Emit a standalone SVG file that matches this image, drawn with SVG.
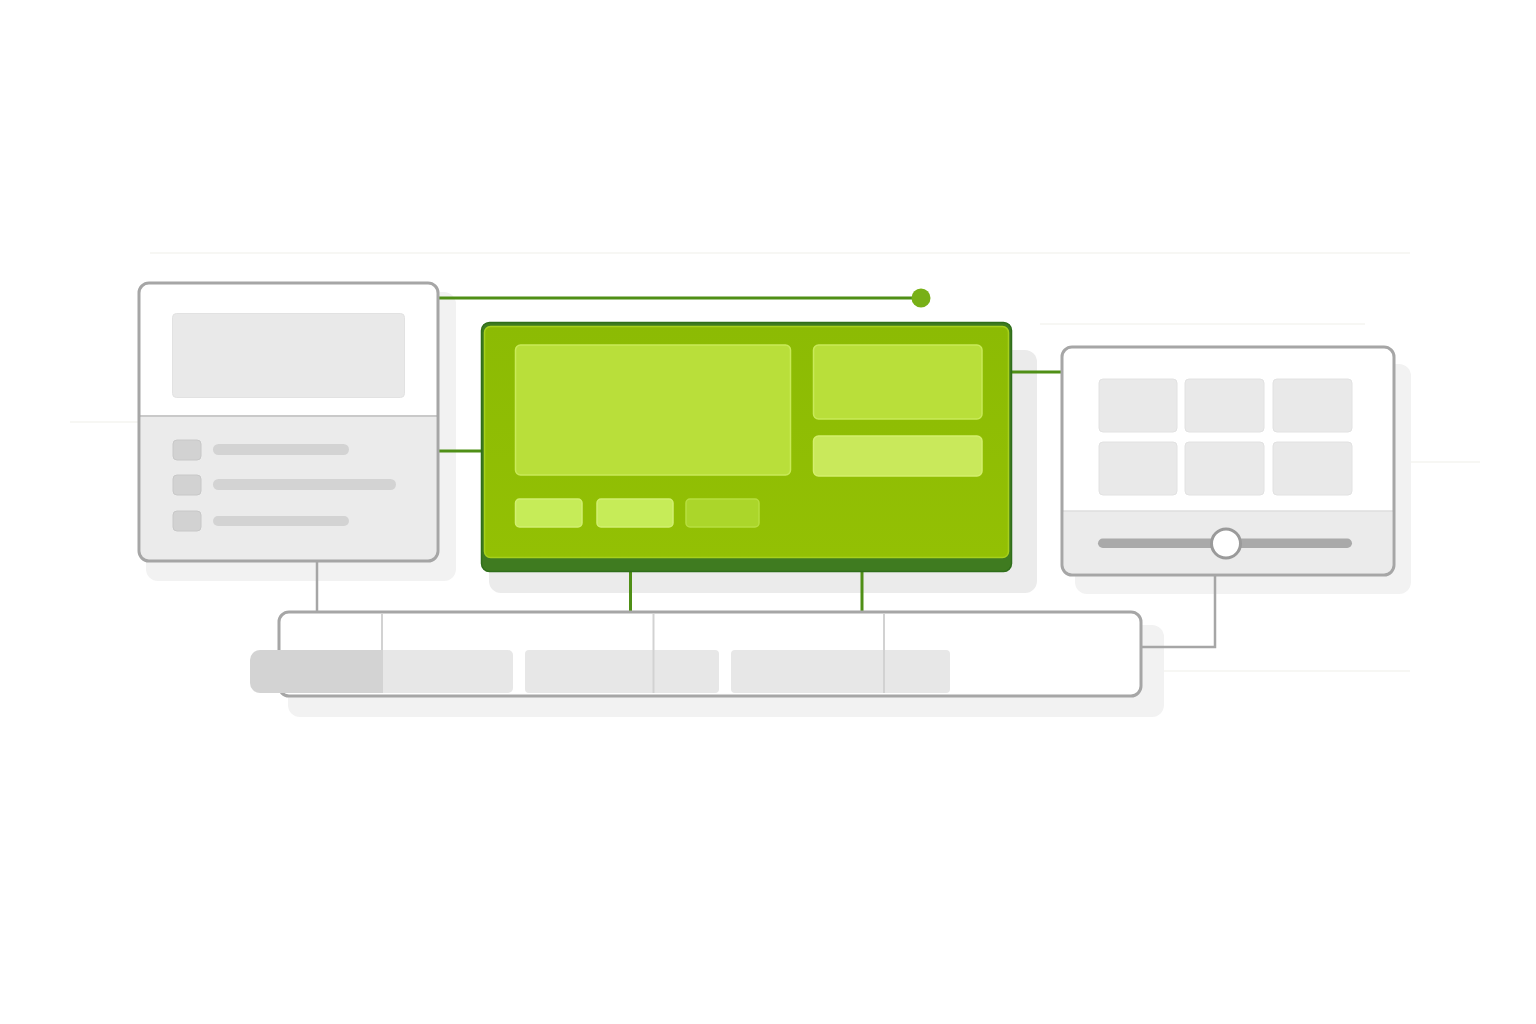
<svg xmlns="http://www.w3.org/2000/svg" width="1536" height="1024" viewBox="0 0 1536 1024">
<defs>
<style>
.frame{fill:none;stroke:#a6a6a6;stroke-width:3}
.shadow{fill:#f2f2f2}
.ph{fill:#e9e9e9;stroke:#e2e2e2;stroke-width:1}
.sq{fill:#d2d2d2;stroke:#c8c8c8;stroke-width:1}
.bar{fill:#d3d3d3}
.glink{fill:none;stroke:#4f8f16;stroke-width:3}
.link{fill:none;stroke:#a6a6a6;stroke-width:2.5}
.guide{stroke:#f4f4f1;stroke-width:1.5}
.gbox{fill:#b9df3a;stroke:#c9ea58;stroke-width:1.5}
.gbtn{fill:#c6ec58;stroke:#d2f070;stroke-width:1.5}
.div{stroke:#d2d2d2;stroke-width:2}
</style>
<linearGradient id="gface" x1="0" y1="0" x2="0" y2="1">
<stop offset="0" stop-color="#8cbb04"/>
<stop offset="1" stop-color="#93c004"/>
</linearGradient>
</defs>
<rect width="1536" height="1024" fill="#ffffff"/>
<g id="guides">
<line class="guide" x1="150" y1="253" x2="1410" y2="253"/>
<line class="guide" x1="1040" y1="324" x2="1365" y2="324"/>
<line class="guide" x1="70" y1="422" x2="140" y2="422"/>
<line class="guide" x1="1395" y1="462" x2="1480" y2="462"/>
<line class="guide" x1="1140" y1="671" x2="1410" y2="671"/>
</g>
<g id="shadows">
<rect class="shadow" x="146" y="292" width="310" height="289" rx="12"/>
<rect x="489" y="350" width="548" height="243" rx="12" style="fill:#ebebeb"/>
<rect class="shadow" x="1075" y="364" width="336" height="230" rx="12"/>
<rect class="shadow" x="288" y="625" width="876" height="92" rx="12"/>
</g>
<g id="connectors">
<line class="glink" x1="438" y1="298" x2="921" y2="298"/>
<circle cx="921" cy="298" r="9.5" fill="#78b017"/>
<line class="glink" x1="438" y1="451" x2="483" y2="451"/>
<line class="glink" x1="1012" y1="372" x2="1062" y2="372"/>
<line class="glink" x1="630.5" y1="572" x2="630.5" y2="612"/>
<line class="glink" x1="862" y1="572" x2="862" y2="612"/>
<line class="link" x1="317" y1="561" x2="317" y2="612"/>
<polyline class="link" points="1215,575 1215,647 1141,647"/>
</g>
<g id="left-panel">
<rect x="139" y="283" width="299" height="278" rx="10" fill="#ffffff"/>
<path d="M140.5 416 H436.5 V551 a9 9 0 0 1 -9 9 H149.5 a9 9 0 0 1 -9 -9 Z" fill="#ebebeb"/>
<line x1="140" y1="416" x2="437" y2="416" stroke="#c9c9c9" stroke-width="2"/>
<rect class="frame" x="139" y="283" width="299" height="278" rx="10"/>
<rect class="ph" x="172.5" y="313.5" width="232" height="84" rx="4"/>
<rect class="sq" x="173" y="440" width="28" height="20" rx="4"/>
<rect class="bar" x="213" y="444" width="136" height="11" rx="5.5"/>
<rect class="sq" x="173" y="475" width="28" height="20" rx="4"/>
<rect class="bar" x="213" y="479" width="183" height="11" rx="5.5"/>
<rect class="sq" x="173" y="511" width="28" height="20" rx="4"/>
<rect class="bar" x="213" y="516" width="136" height="10" rx="5"/>
</g>
<g id="center-panel">
<rect x="481.5" y="322.5" width="530" height="249" rx="8" fill="#3f7b20" stroke="#2f6e1a" stroke-width="1.5"/>
<rect x="484.5" y="326.5" width="524" height="231" rx="6" fill="url(#gface)" stroke="#a6d01c" stroke-width="1.5"/>
<rect class="gbox" x="515.5" y="345" width="275" height="130" rx="5"/>
<rect class="gbox" x="813.5" y="345" width="168.5" height="74" rx="5"/>
<rect class="gbox" x="813.5" y="436" width="168.5" height="40" rx="5" style="fill:#c9e95b;stroke:#d4ef6c"/>
<rect class="gbtn" x="515.5" y="499" width="66.5" height="28" rx="4"/>
<rect class="gbtn" x="597" y="499" width="76" height="28" rx="4"/>
<rect class="gbtn" x="686" y="499" width="73" height="28" rx="4" style="fill:#abd62a;stroke:#b8df40"/>
</g>
<g id="right-panel">
<rect x="1062" y="347" width="332" height="228" rx="10" fill="#ffffff"/>
<path d="M1063.5 511 H1392.5 V565 a8.5 8.5 0 0 1 -8.5 8.5 H1072 a8.5 8.5 0 0 1 -8.5 -8.5 Z" fill="#ebebeb"/>
<line x1="1063" y1="511" x2="1393" y2="511" stroke="#dedede" stroke-width="1.5"/>
<rect class="frame" x="1062" y="347" width="332" height="228" rx="10"/>
<rect class="ph" x="1099" y="379" width="78" height="53" rx="4"/>
<rect class="ph" x="1185" y="379" width="79" height="53" rx="4"/>
<rect class="ph" x="1273" y="379" width="79" height="53" rx="4"/>
<rect class="ph" x="1099" y="442" width="78" height="53" rx="4"/>
<rect class="ph" x="1185" y="442" width="79" height="53" rx="4"/>
<rect class="ph" x="1273" y="442" width="79" height="53" rx="4"/>
<rect x="1098" y="538.5" width="254" height="9.5" rx="4.75" fill="#a9a9a9"/>
<circle cx="1226" cy="543.5" r="14.5" fill="#ffffff" stroke="#9a9a9a" stroke-width="3"/>
</g>
<g id="bottom-bar">
<rect x="279" y="612" width="862" height="84" rx="10" fill="#ffffff"/>
<rect class="frame" x="279" y="612" width="862" height="84" rx="10"/>
<path d="M260 650 H383 V693 H260 a10 10 0 0 1 -10 -10 V660 a10 10 0 0 1 10 -10 Z" fill="#d3d3d3"/>
<path d="M383 650 H508 a5 5 0 0 1 5 5 V688 a5 5 0 0 1 -5 5 H383 Z" fill="#e7e7e7"/>
<rect x="525" y="650" width="194" height="43" rx="4" fill="#e7e7e7"/>
<rect x="731" y="650" width="219" height="43" rx="4" fill="#e7e7e7"/>
<line class="div" x1="382" y1="614" x2="382" y2="650"/>
<line class="div" x1="653.5" y1="614" x2="653.5" y2="693"/>
<line class="div" x1="884" y1="614" x2="884" y2="693"/>
</g>
</svg>
